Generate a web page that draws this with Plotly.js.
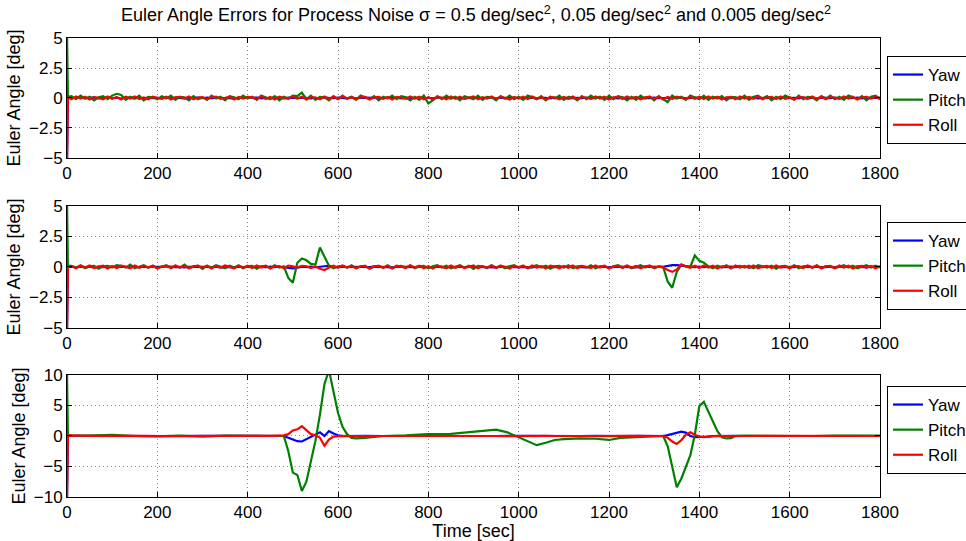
<!DOCTYPE html>
<html>
<head>
<meta charset="utf-8">
<script src="https://cdn.plot.ly/plotly-3.0.1.min.js"></script>
<style>html,body{margin:0;padding:0;background:#fff;}#chart{width:966px;height:541px;}</style>
</head>
<body>
<div id="chart"></div>
<script>
// ---------- DATA ----------
// Time grid for top & middle panels: 0, 2, then every 10 s up to 1800
const tGrid = [0, 2];
for (let s = 10; s <= 1800; s += 10) tGrid.push(s);

// Panel 1 (sigma = 0.5)
const yaw1 = [-5.5, 0,
 0.03,-0.02,0.04,-0.03,0.02,0.05,-0.04,0.01,0.03,-0.02,
 0.02,-0.04,0.03,0.01,-0.03,0.04,-0.02,0.03,-0.01,0.02,
 -0.03,0.04,-0.02,0.03,0.01,-0.04,0.02,-0.01,0.03,-0.02,
 0.04,-0.03,0.02,0.01,-0.02,0.03,-0.04,0.02,0.01,-0.03,
 0.02,0.04,-0.03,0.01,-0.02,0.03,0.02,-0.04,0.03,-0.01,
 -0.02,0.03,0.01,-0.04,0.02,-0.03,0.04,0.01,-0.02,0.03,
 0.01,-0.03,0.04,-0.02,0.03,0.02,-0.04,0.01,0.03,-0.02,
 0.03,-0.01,0.02,-0.04,0.03,0.01,-0.02,0.04,-0.03,0.02,
 -0.02,0.04,-0.01,0.03,-0.03,0.02,0.01,-0.04,0.03,-0.02,
 0.02,-0.03,0.04,0.01,-0.02,0.03,-0.04,0.02,0.01,-0.01,
 0.04,-0.02,0.03,-0.03,0.01,0.02,-0.04,0.03,-0.02,0.01,
 -0.03,0.02,0.01,-0.02,0.04,-0.03,0.02,0.03,-0.01,0.02,
 0.01,-0.04,0.03,-0.02,0.02,0.04,-0.03,0.01,-0.02,0.03,
 -0.02,0.03,0.02,-0.04,0.01,0.03,-0.03,0.02,0.04,-0.01,
 0.03,-0.02,0.01,0.04,-0.03,0.02,-0.01,0.03,-0.04,0.02,
 -0.01,0.03,-0.04,0.02,0.03,-0.02,0.01,0.04,-0.03,0.02,
 0.02,-0.03,0.04,-0.01,0.02,-0.04,0.03,0.01,-0.02,0.03,
 -0.03,0.02,0.01,-0.02,0.04,-0.03,0.02,-0.01,0.03,0.01];
const pitch1 = [5.5, 0.1,
 0.15,-0.1,0.2,-0.05,0.1,-0.2,0.05,0.15,-0.1,0.2,
 0.35,0.25,-0.15,0.1,-0.05,0.2,-0.2,0.1,0.05,-0.1,
 0.15,-0.05,0.2,-0.15,0.1,0.05,-0.2,0.15,-0.1,0.05,
 -0.15,0.2,-0.05,0.1,-0.2,0.15,0.05,-0.1,0.2,-0.05,
 0.1,-0.15,0.2,0.05,-0.1,0.15,-0.2,0.1,-0.05,0.2,
 0.15,0.45,-0.1,0.2,-0.15,0.1,0.05,-0.2,0.15,-0.1,
 0.2,-0.05,0.1,-0.15,0.2,0.05,-0.1,0.15,-0.2,0.1,
 -0.05,0.2,-0.1,0.15,0.05,-0.2,0.1,-0.15,0.2,-0.45,
 -0.2,0.15,-0.1,0.2,-0.05,0.1,-0.2,0.15,0.05,-0.1,
 0.2,-0.15,0.1,0.05,-0.2,0.15,-0.05,0.2,-0.1,0.1,
 -0.15,0.2,0.05,-0.1,0.15,-0.2,0.1,-0.05,0.2,-0.15,
 0.1,0.05,-0.2,0.15,-0.1,0.2,-0.05,0.1,-0.15,0.2,
 -0.1,0.15,0.05,-0.2,0.1,-0.15,0.2,-0.05,0.1,-0.2,
 0.15,-0.1,-0.35,0.2,-0.05,0.1,-0.15,0.2,0.05,-0.1,
 0.2,-0.15,0.1,-0.05,0.15,-0.2,0.1,0.05,-0.1,0.2,
 -0.15,0.1,0.2,-0.05,0.15,-0.2,0.1,-0.1,0.2,0.05,
 -0.15,0.2,-0.1,0.1,0.05,-0.2,0.15,-0.05,0.2,-0.1,
 0.1,-0.15,0.2,0.05,-0.1,0.15,-0.2,0.1,0.2,-0.05];
const roll1 = [-5.5, 0.05,
 -0.1,0.12,-0.05,0.1,-0.12,0.08,0.02,-0.1,0.12,-0.06,
 0.08,-0.12,0.1,-0.04,0.12,-0.08,0.05,-0.1,0.1,0.02,
 -0.08,0.1,-0.12,0.06,0.1,-0.05,0.12,-0.1,0.04,0.08,
 -0.1,0.06,0.12,-0.08,0.02,0.1,-0.12,0.08,-0.04,0.1,
 0.05,-0.1,0.12,-0.06,0.08,-0.12,0.1,0.02,-0.08,0.12,
 -0.05,0.1,-0.12,0.08,0.04,-0.1,0.12,-0.06,0.1,-0.08,
 0.12,-0.04,0.08,-0.1,0.06,0.1,-0.12,0.05,0.1,-0.06,
 0.08,-0.12,0.1,0.02,-0.08,0.12,-0.05,0.1,-0.1,0.06,
 -0.12,0.08,0.04,-0.1,0.12,-0.06,0.1,-0.08,0.05,0.12,
 -0.1,0.06,-0.04,0.12,-0.08,0.1,0.02,-0.12,0.08,-0.05,
 0.1,-0.08,0.12,-0.04,0.06,-0.12,0.1,0.04,-0.1,0.08,
 -0.06,0.12,-0.1,0.08,0.02,-0.08,0.12,-0.05,0.1,-0.12,
 0.06,0.1,-0.08,0.12,-0.04,0.08,-0.1,0.05,0.12,-0.06,
 0.1,-0.12,0.08,-0.05,0.12,0.02,-0.1,0.08,-0.06,0.1,
 -0.08,0.12,-0.04,0.1,-0.12,0.06,0.08,-0.1,0.12,-0.05,
 0.08,-0.06,0.12,-0.1,0.04,0.1,-0.08,0.12,-0.04,0.06,
 -0.12,0.1,0.05,-0.08,0.12,-0.06,0.1,-0.1,0.08,0.02,
 -0.08,0.12,-0.05,0.1,-0.12,0.06,0.1,-0.04,0.08,-0.1];

// Panel 2 (sigma = 0.05)
const yaw2 = [-5.5, 0,
 0.02,-0.03,0.03,-0.01,0.02,-0.03,0.04,-0.02,0.01,0.03,
 -0.02,0.03,0.01,-0.03,0.02,-0.01,0.03,-0.02,0.02,0.01,
 -0.03,0.02,0.03,-0.02,0.01,-0.03,0.02,0.03,-0.01,0.02,
 0.01,-0.02,0.03,-0.03,0.02,0.01,-0.02,0.03,-0.01,0.02,
 -0.02,0.03,0.01,-0.02,0.03,-0.01,0.02,-0.03,-0.1,-0.12,
 -0.05,0.02,-0.01,0.03,-0.02,0.02,0.1,0.1,0.02,-0.01,
 0.03,-0.02,0.02,0.01,-0.03,0.02,-0.01,0.03,0.01,-0.02,
 0.02,-0.03,0.03,0.01,-0.02,0.02,-0.01,0.03,-0.02,0.01,
 -0.02,0.03,0.01,-0.03,0.02,-0.01,0.03,-0.02,0.02,0.01,
 0.03,-0.02,0.01,0.02,-0.03,0.02,-0.01,0.03,-0.02,0.01,
 -0.01,0.02,-0.03,0.03,0.01,-0.02,0.02,-0.01,0.03,-0.02,
 0.02,0.01,-0.02,0.03,-0.03,0.02,0.01,-0.02,0.03,-0.01,
 -0.02,0.03,0.01,-0.02,0.02,-0.03,0.03,0.01,-0.01,0.02,
 0.01,0.02,0.1,0.15,0.15,0.12,0.05,0.02,-0.01,0.03,
 -0.02,0.02,0.01,-0.03,0.02,-0.01,0.03,-0.02,0.02,0.01,
 0.02,-0.03,0.03,-0.01,0.02,0.01,-0.02,0.03,-0.02,0.02,
 -0.01,0.03,-0.02,0.02,0.01,-0.03,0.02,-0.01,0.03,-0.02,
 0.03,-0.01,0.02,-0.02,0.03,0.01,-0.03,0.02,-0.01,0.02];
const pitch2 = [5.5, 0.1,
 0.1,-0.05,0.15,-0.1,0.05,0.1,-0.15,0.05,0.1,-0.05,
 0.15,0.1,-0.05,0.2,-0.1,0.05,0.15,-0.05,0.1,-0.1,
 0.05,0.15,-0.1,0.1,-0.05,0.2,-0.1,0.05,0.1,-0.15,
 0.1,-0.05,0.15,0.05,-0.1,0.1,-0.05,0.15,-0.1,0.05,
 0.1,-0.15,0.05,0.1,-0.1,0.15,-0.05,0.05,-0.9,-1.3,
 0.35,0.7,0.55,0.25,0.2,1.6,0.9,0.1,-0.1,0.05,
 0.1,-0.05,0.15,-0.1,0.05,0.1,-0.15,0.05,0.1,-0.05,
 0.15,-0.1,0.05,0.1,-0.05,0.15,-0.1,0.05,0.1,-0.1,
 0.05,0.15,-0.05,0.1,-0.1,0.05,0.15,-0.05,0.1,-0.15,
 0.1,0.05,-0.1,0.15,-0.05,0.1,-0.1,0.05,0.15,-0.05,
 0.1,-0.1,0.05,0.15,-0.05,0.1,-0.15,0.05,0.1,-0.05,
 0.15,-0.1,0.05,0.1,-0.05,0.15,-0.1,0.05,0.1,-0.1,
 0.05,0.15,-0.05,0.1,-0.1,0.05,0.15,-0.05,0.1,-0.1,
 0.05,0.0,-1.2,-1.7,-0.4,0.2,0.05,0.0,0.95,0.5,
 0.35,0.05,-0.1,0.1,-0.05,0.15,-0.1,0.05,0.1,-0.05,
 0.1,-0.1,0.15,0.05,-0.05,0.1,-0.15,0.05,0.1,-0.05,
 0.15,-0.1,0.05,0.1,-0.05,0.15,-0.1,0.05,0.1,-0.1,
 0.05,0.15,-0.05,0.1,-0.1,0.05,0.15,-0.05,0.1,-0.05];
const roll2 = [-5.5, 0.05,
 0.08,-0.1,0.1,-0.05,0.12,-0.08,0.04,0.1,-0.12,0.06,
 -0.08,0.1,0.02,-0.1,0.12,-0.06,0.08,-0.04,0.1,-0.12,
 0.06,0.1,-0.08,0.12,-0.04,0.08,-0.1,0.05,0.12,-0.06,
 0.1,-0.12,0.08,-0.05,0.12,0.02,-0.1,0.08,-0.06,0.1,
 -0.08,0.12,-0.04,0.1,-0.12,0.06,0.08,-0.1,0.12,0.05,
 -0.05,0.1,0.06,-0.08,0.04,-0.15,-0.25,-0.05,0.1,-0.06,
 0.12,-0.04,0.08,-0.1,0.06,0.1,-0.12,0.05,0.1,-0.06,
 0.08,-0.12,0.1,0.02,-0.08,0.12,-0.05,0.1,-0.1,0.06,
 -0.12,0.08,0.04,-0.1,0.12,-0.06,0.1,-0.08,0.05,0.12,
 -0.1,0.06,-0.04,0.12,-0.08,0.1,0.02,-0.12,0.08,-0.05,
 0.1,-0.08,0.12,-0.04,0.06,-0.12,0.1,0.04,-0.1,0.08,
 -0.06,0.12,-0.1,0.08,0.02,-0.08,0.12,-0.05,0.1,-0.12,
 0.06,0.1,-0.08,0.12,-0.04,0.08,-0.1,0.05,0.12,-0.06,
 0.05,-0.05,-0.25,-0.4,-0.2,0.2,0.05,-0.06,0.1,-0.08,
 0.12,-0.04,0.1,-0.12,0.06,0.08,-0.1,0.12,-0.05,0.08,
 -0.06,0.12,-0.1,0.04,0.1,-0.08,0.12,-0.04,0.06,-0.12,
 0.1,0.05,-0.08,0.12,-0.06,0.1,-0.1,0.08,0.02,-0.08,
 0.12,-0.05,0.1,-0.12,0.06,0.1,-0.04,0.08,-0.1,0.05];

// Panel 3 (sigma = 0.005): non-uniform time grid
const tLow = [0,2,50,100,150,200,250,300,350,400,450,480,490,500,510,520,530,540,550,560,
 570,580,590,600,610,620,630,640,660,700,750,800,850,900,950,975,1000,1020,1040,1060,
 1080,1100,1135,1170,1200,1225,1265,1300,1320,1330,1340,1350,1360,1370,1380,1390,1400,1410,1420,1430,
 1440,1450,1460,1470,1480,1500,1550,1600,1650,1700,1750,1800];
const yaw3 = [-10.5,0,0.02,-0.02,0.03,0.0,-0.02,0.02,0.0,0.02,-0.01,0.0,-0.3,-0.6,-0.85,-0.9,-0.5,-0.1,0.3,0.6,
 0.0,0.8,0.4,0.1,0.0,0.02,-0.02,0.0,0.02,0.0,-0.02,0.0,0.02,-0.02,0.0,0.02,0.0,-0.02,0.0,0.02,
 0.0,-0.02,0.0,0.02,-0.02,0.0,0.02,0.0,0.0,0.15,0.35,0.6,0.7,0.55,0.0,-0.2,-0.2,-0.2,-0.1,0.0,
 0.02,0.0,-0.02,0.0,0.02,0.0,-0.02,0.0,0.02,0.0,-0.02,0.0];
const pitch3 = [10.5,0.1,0.05,0.2,0.0,-0.05,0.05,-0.1,0.05,0.0,0.05,0.0,-2.5,-6.0,-6.4,-9.0,-7.5,-4.0,-0.8,3.5,
 8.5,10.8,7.0,3.8,1.5,0.3,-0.3,-0.4,-0.3,0.0,0.1,0.3,0.35,0.7,1.05,0.6,-0.2,-0.9,-1.5,-1.1,
 -0.65,-0.5,-0.4,-0.45,-0.65,-0.3,-0.2,-0.05,0.0,-1.7,-4.8,-8.4,-7.0,-5.0,-3.2,0.2,4.9,5.6,4.0,2.2,
 0.8,-0.2,-0.4,-0.35,0.0,0.05,0.0,0.05,0.0,0.05,0.0,0.05];
const roll3 = [-10.5,0.1,0.03,-0.03,0.02,0.0,-0.02,0.03,0.0,-0.02,0.02,0.1,0.3,0.9,1.1,1.6,1.0,0.3,0.1,-0.3,
 -1.6,-0.6,-0.1,0.0,0.02,-0.02,0.0,0.02,-0.02,0.0,0.02,-0.02,0.0,0.02,0.0,-0.02,0.02,0.0,-0.02,0.02,
 0.0,-0.02,0.02,0.0,-0.02,0.02,0.0,0.02,0.0,-0.3,-0.9,-1.3,-0.7,0.2,0.6,0.2,-0.1,-0.2,-0.1,0.0,
 0.02,-0.02,0.0,0.02,-0.02,0.0,0.02,0.0,-0.02,0.0,0.02,0.0];

const seriesNames = ["Yaw", "Pitch", "Roll"];
const seriesColors = ["#0000ff", "#008000", "#ff0000"];
const titleText = "Euler Angle Errors for Process Noise σ = 0.5 deg/sec<sup>2</sup>, 0.05 deg/sec<sup>2</sup> and 0.005 deg/sec<sup>2</sup>";

// ---------- BUILD ----------
const panels = [
  {t: tGrid, ys: [yaw1, pitch1, roll1], xa: "x",  ya: "y",  lg: "legend"},
  {t: tGrid, ys: [yaw2, pitch2, roll2], xa: "x2", ya: "y2", lg: "legend2"},
  {t: tLow,  ys: [yaw3, pitch3, roll3], xa: "x3", ya: "y3", lg: "legend3"}
];
const traces = [];
panels.forEach((p, pi) => {
  p.ys.forEach((y, si) => {
    traces.push({
      type: "scatter", mode: "lines", x: p.t, y: y,
      xaxis: p.xa, yaxis: p.ya, name: seriesNames[si],
      line: {color: seriesColors[si], width: 2.2},
      legend: p.lg, showlegend: true
    });
  });
});

const FONT = "Liberation Sans, Arial, Helvetica, sans-serif";
const GRID = {showgrid: true, gridcolor: "rgba(0,0,0,0.45)", griddash: "1px,3px", gridwidth: 1};
function xAx(anchor, withTitle) {
  const a = Object.assign({
    domain: [0, 1], anchor: anchor, range: [0, 1800], tickmode: "linear", tick0: 0, dtick: 200,
    showline: true, linecolor: "#000", linewidth: 1, mirror: "ticks",
    ticks: "inside", ticklen: 5, tickcolor: "#000",
    zeroline: false, tickfont: {family: FONT, size: 17, color: "#000"}, automargin: false
  }, GRID);
  if (withTitle) a.title = {text: "Time [sec]", font: {family: FONT, size: 18, color: "#000"}, standoff: 0};
  return a;
}
function yAx(domain, anchor, rng, vals) {
  return Object.assign({
    domain: domain, anchor: anchor, range: rng, tickmode: "array", tickvals: vals,
    showline: true, linecolor: "#000", linewidth: 1, mirror: "ticks",
    ticks: "inside", ticklen: 5, tickcolor: "#000",
    zeroline: false, tickfont: {family: FONT, size: 17, color: "#000"}, automargin: false,
    title: {text: "Euler Angle [deg]", font: {family: FONT, size: 18, color: "#000"}, standoff: 3}
  }, GRID);
}
function lg(yc) {
  return {
    xref: "container", yref: "container", x: 887/966, y: yc, xanchor: "left", yanchor: "top",
    bgcolor: "#fff", bordercolor: "#000", borderwidth: 1,
    font: {family: FONT, size: 17, color: "#000"}, itemwidth: 30
  };
}

const layout = {
  width: 966, height: 541,
  margin: {l: 67, r: 86, t: 38, b: 44},
  paper_bgcolor: "#fff", plot_bgcolor: "#fff",
  showlegend: true,
  title: {text: titleText, font: {family: FONT, size: 18, color: "#000"},
          x: 476/966, xanchor: "center", y: 1 - 15/541, yanchor: "middle"},
  xaxis: xAx("y", false),
  yaxis: yAx([0.7386, 1], "x", [-5, 5], [-5, -2.5, 0, 2.5, 5]),
  xaxis2: xAx("y2", false),
  yaxis2: yAx([0.3682, 0.634], "x2", [-5, 5], [-5, -2.5, 0, 2.5, 5]),
  xaxis3: xAx("y3", true),
  yaxis3: yAx([0, 0.2658], "x3", [-10, 10], [-10, -5, 0, 5, 10]),
  legend: lg(1 - 56/541),
  legend2: lg(1 - 222/541),
  legend3: lg(1 - 386/541)
};

Plotly.newPlot("chart", traces, layout, {displayModeBar: false, staticPlot: true});
</script>
</body>
</html>
